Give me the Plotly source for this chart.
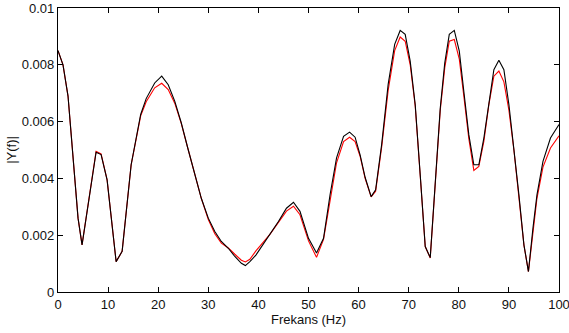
import plotly.graph_objects as go

freq = [0, 1, 2, 3, 4, 4.8, 6, 7, 7.6, 8.6, 9.8, 11.6, 12.8, 14.6, 16.5, 17.6, 19.3, 20.7,
        22, 23.3, 24.6, 25.9, 27.3, 28.6, 30, 31.3, 32.6, 34, 35.3, 36.6, 37.4, 38.3, 39.5,
        42.3, 44, 45.6, 47, 48.3, 50, 51.6, 53, 54.3, 55.6, 57, 58.2, 59.3, 60.3, 61.3, 62.5,
        63.4, 64.6, 65.9, 67.2, 68.3, 69.3, 70.3, 71.3, 72.3, 73.3, 74.3, 75.3, 76.3, 77.2,
        78.1, 79.1, 80.1, 81, 82, 83, 84, 85, 86, 87, 88, 89, 90, 91, 92, 93, 93.9, 94.8,
        95.6, 96.8, 98.3, 100]

y_black = [0.0085, 0.0080, 0.0069, 0.0047, 0.0026, 0.00166, 0.00307, 0.00436, 0.00492, 0.00484,
           0.00395, 0.00107, 0.00143, 0.00448, 0.00625, 0.00681, 0.00736, 0.00760,
           0.0073, 0.00672, 0.00596, 0.00507, 0.00413, 0.0033, 0.0026, 0.00213, 0.00178, 0.00154,
           0.00125, 0.00101, 0.00093, 0.00107, 0.0013,
           0.00201, 0.00248, 0.00295, 0.00316, 0.00284, 0.00189, 0.00137, 0.00189, 0.00342,
           0.00472, 0.00548, 0.00563, 0.00545, 0.00483, 0.00404, 0.00336,
           0.0036, 0.00519, 0.00731, 0.00872, 0.00921, 0.00907, 0.00813, 0.0066, 0.00413,
           0.0016, 0.00121, 0.00378, 0.00648, 0.00807,
           0.00907, 0.00921, 0.00848, 0.00707, 0.00554, 0.00448, 0.00448, 0.00542, 0.00672,
           0.00783, 0.00816, 0.00783, 0.0066, 0.00507, 0.00342, 0.00166, 0.00072, 0.00225,
           0.00342, 0.0046, 0.00542, 0.0059]

y_red = [0.0085, 0.0080, 0.0069, 0.0047, 0.0026, 0.00166, 0.00307, 0.00436, 0.00495, 0.00486,
         0.00395, 0.00107, 0.00143, 0.00448, 0.0062, 0.0067, 0.00719, 0.00735,
         0.00713, 0.00665, 0.00594, 0.00507, 0.00413, 0.0033, 0.00255, 0.00205, 0.00172, 0.00155,
         0.00133, 0.00112, 0.00106, 0.00115, 0.00145,
         0.00203, 0.00245, 0.00285, 0.00302, 0.00272, 0.0018, 0.00122, 0.00185, 0.00325,
         0.00455, 0.0053, 0.00545, 0.0053, 0.00478, 0.004, 0.00335,
         0.00355, 0.0051, 0.0071, 0.0085, 0.00898, 0.00883, 0.008, 0.00655, 0.0041,
         0.0016, 0.0012, 0.00375, 0.0064, 0.0079,
         0.00883, 0.00889, 0.0082, 0.0069, 0.0054, 0.00428, 0.00442, 0.0053, 0.0066,
         0.0076, 0.00778, 0.0074, 0.0064, 0.005, 0.0034, 0.00165, 0.00072, 0.0022,
         0.0033, 0.0044, 0.00507, 0.0055]

x_ticks = [0, 10, 20, 30, 40, 50, 60, 70, 80, 90, 100]
y_ticks = [0, 0.002, 0.004, 0.006, 0.008, 0.01]
y_tick_text = ["0", "0.002", "0.004", "0.006", "0.008", "0.01"]

fig = go.Figure()
fig.add_trace(go.Scatter(x=freq, y=y_red, mode="lines",
                         line=dict(color="#ff0000", width=1.1), showlegend=False))
fig.add_trace(go.Scatter(x=freq, y=y_black, mode="lines",
                         line=dict(color="#000000", width=1.1), showlegend=False))

font_family = "Liberation Sans, Arial, sans-serif"
fig.update_layout(
    width=569, height=333,
    margin=dict(l=58, r=10, t=8, b=41, autoexpand=False),
    paper_bgcolor="white", plot_bgcolor="white",
    font=dict(family=font_family, size=13, color="#111111"),
)
fig.update_xaxes(
    range=[0, 100], tickvals=x_ticks, ticks="inside", ticklen=5, tickwidth=1,
    tickcolor="black", showline=True, linecolor="black", linewidth=1.3, mirror="ticks",
    showgrid=False, zeroline=False, automargin=False, ticklabeloverflow="allow",
    title=dict(text="Frekans (Hz)", standoff=0, font=dict(size=13)),
)
fig.update_yaxes(
    range=[0, 0.01], tickvals=y_ticks, ticktext=y_tick_text, ticks="inside", ticklen=5,
    tickwidth=1, tickcolor="black", showline=True, linecolor="black", linewidth=1.3,
    mirror="ticks", showgrid=False, zeroline=False, automargin=False, ticklabeloverflow="allow",
    title=dict(text="|Y(f)|", standoff=2, font=dict(size=13)),
)
fig.write_html("out.html", config={"displayModeBar": False},
               post_script="document.body.style.margin='0';document.body.style.overflow='hidden';")
